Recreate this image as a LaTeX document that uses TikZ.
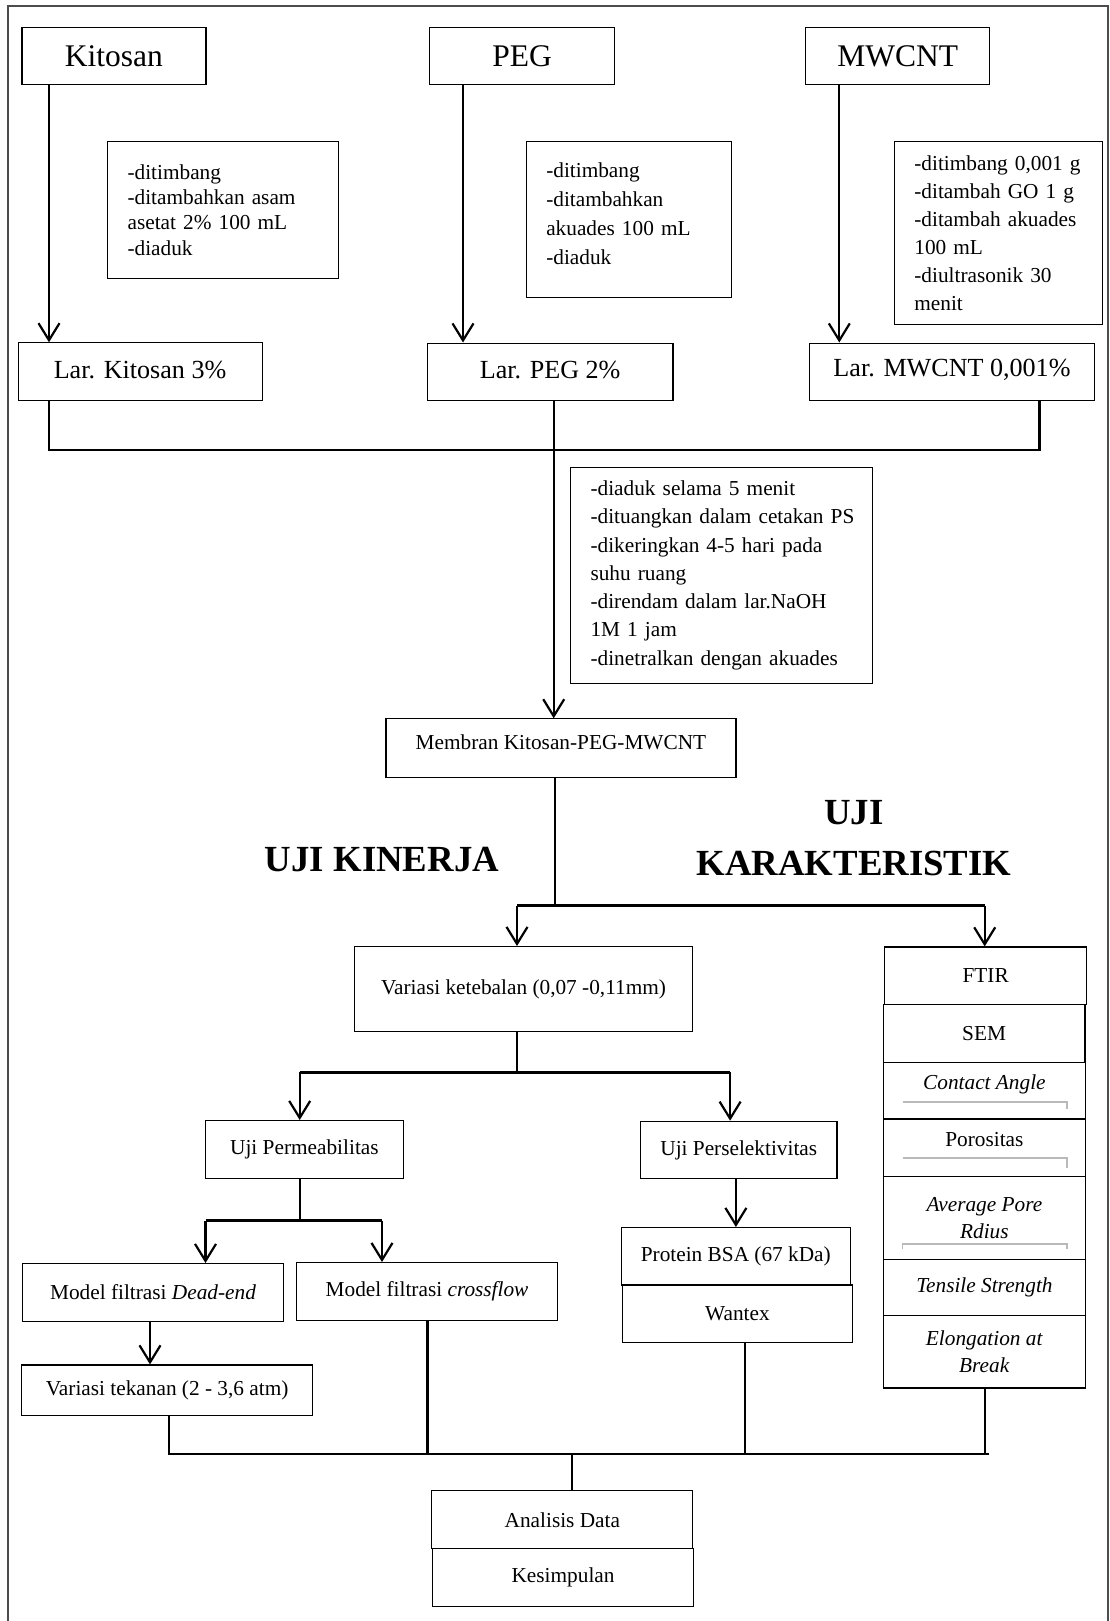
\documentclass[tikz,border=0pt]{standalone}
\usepackage{fontspec}
\setmainfont{Liberation Serif}
\usetikzlibrary{arrows.meta}
\newcommand\fsm{\fontsize{21.3}{25}\selectfont}
\newcommand\fbig{\fontsize{31.5}{36}\selectfont}
\newcommand\flar{\fontsize{26.1}{30}\selectfont}
\newcommand\up[2]{\raisebox{#1}[\height][\depth]{#2}}
\begin{document}
\begin{tikzpicture}[x=1pt,y=-1pt,
  bx/.style={draw, line width=1.1pt, inner sep=0pt, anchor=north west, align=center, font=\fsm},
  note/.style={draw, line width=1.1pt, inner xsep=20pt, inner ysep=0pt, anchor=north west, align=left},
  conn/.style={line width=2.2pt},
  arr/.style={line width=2.2pt, -{Straight Barb[length=17pt,width=21pt]}},
  greyline/.style={draw=gray!55, line width=1.4pt},
  heading/.style={font=\bfseries\fontsize{36.8}{42}\selectfont, inner sep=0pt}]
\useasboundingbox (0,0) rectangle (1109,1621);
% outer frame
\draw[line width=1.5pt, black!70] (8,1625) -- (8,6) -- (1108,6) -- (1108,1625);

% top row
\node[bx, font=\fbig, minimum width=184pt, minimum height=57.6pt] (kit) at (21.4,26.7) {Kitosan};
\node[bx, font=\fbig, minimum width=184.4pt, minimum height=57.6pt] (peg) at (429.3,26.7) {PEG};
\node[bx, font=\fbig, minimum width=184pt, minimum height=57.6pt] (mw) at (805.2,26.7) {MWCNT};

% notes
\node[note, font=\fontsize{21.3}{25.3}\selectfont, text width=190.5pt, minimum height=137.6pt] (n1) at (107,140.7)
 {\mbox{-ditimbang}\\\mbox{-ditambahkan asam}\\\mbox{asetat 2\% 100 mL}\\\mbox{-diaduk}};
\node[note, font=\fontsize{21.3}{29}\selectfont, text width=165.5pt, minimum height=156pt] (n2) at (525.7,140.7)
 {\mbox{-ditimbang}\\\mbox{-ditambahkan}\\\mbox{akuades 100 mL}\\\mbox{-diaduk\rule[-11pt]{0pt}{11pt}}};
\node[note, font=\fontsize{21.3}{28}\selectfont, text width=168pt, minimum height=183.3pt] (n3) at (893.8,140.7)
 {\mbox{-ditimbang 0,001 g}\\\mbox{-ditambah GO 1 g}\\\mbox{-ditambah akuades}\\\mbox{100 mL}\\\mbox{-diultrasonik 30}\\\mbox{menit}};

% solutions
\node[bx, font=\flar, minimum width=244pt, minimum height=57.7pt] (lk) at (17.5,342.3) {\up{2pt}{Lar. Kitosan 3\%}};
\node[bx, font=\flar, minimum width=245.6pt, minimum height=57.5pt] (lp) at (426.8,342.5) {\up{2pt}{Lar. PEG 2\%}};
\node[bx, font=\flar, minimum width=284.5pt, minimum height=57.5pt] (lm) at (809.2,342.5) {\up{2pt}{Lar. MWCNT 0,001\%}};

\node[note, font=\fontsize{21.3}{28.3}\selectfont, text width=262pt, minimum height=216pt] (n4) at (570,466.7)
 {\mbox{-diaduk selama 5 menit}\\\mbox{-dituangkan dalam cetakan PS}\\\mbox{-dikeringkan 4-5 hari pada}\\\mbox{suhu ruang}\\\mbox{-direndam dalam lar.NaOH}\\\mbox{1M 1 jam}\\\mbox{-dinetralkan dengan akuades}};

\node[bx, minimum width=350pt, minimum height=58.4pt] (mem) at (385.4,718.3) {\up{6pt}{Membran Kitosan-PEG-MWCNT}};

% headings
\node[heading] (hkin) at (382,860) {UJI KINERJA};
\node[heading] (huji) at (854,813) {UJI};
\node[heading] (hkar) at (854,863) {KARAKTERISTIK};

% performance branch
\node[bx, minimum width=338pt, minimum height=85pt] (var) at (354,946) {Variasi ketebalan (0,07 -0,11mm)};
\node[bx, minimum width=198.3pt, minimum height=58pt] (perm) at (204.7,1120) {Uji Permeabilitas};
\node[bx, minimum width=196.4pt, minimum height=57.3pt] (sel) at (640,1120.7) {Uji Perselektivitas};
\node[bx, minimum width=261.4pt, minimum height=57.6pt] (dead) at (21.8,1263) {Model filtrasi \textit{Dead-end}};
\node[bx, minimum width=261.4pt, minimum height=57.8pt] (cross) at (295.8,1262) {Model filtrasi \textit{crossflow}};
\node[bx, minimum width=291.3pt, minimum height=50.6pt] (tek) at (21,1364.4) {Variasi tekanan (2 - 3,6 atm)};
\node[bx, minimum width=229.5pt, minimum height=57.4pt] (bsa) at (620.5,1227) {Protein BSA (67 kDa)};
\node[bx, minimum width=230.2pt, minimum height=57.9pt] (wan) at (621.8,1284.4) {Wantex};

% characterisation column
\node[bx, minimum width=201.7pt, minimum height=57.6pt] (ftir) at (884.3,946.4) {FTIR};
\node[bx, minimum width=201.8pt, minimum height=57.8pt] (sem) at (882.6,1004) {SEM};
\node[bx, minimum width=202.3pt, minimum height=56.6pt] (ca) at (882.7,1061.8) {\up{6pt}{\textit{Contact Angle}}};
\node[bx, minimum width=202.3pt, minimum height=57.5pt] (por) at (882.7,1118.4) {\up{8pt}{Porositas}};
\node[bx, font=\fontsize{21.3}{26.7}\selectfont, minimum width=202.3pt, minimum height=82.7pt] (apr) at (882.7,1175.9) {\textit{Average Pore}\\\textit{Rdius}};
\node[bx, minimum width=202.3pt, minimum height=56.6pt] (ts) at (882.7,1258.6) {\textit{Tensile Strength}};
\node[bx, font=\fontsize{21.3}{27.6}\selectfont, minimum width=202.3pt, minimum height=72.2pt] (el) at (882.7,1315.2) {\textit{Elongation at}\\\textit{Break}};

% faint grey rules inside boxes
\draw[greyline] ([xshift=20pt,yshift=17.4pt]ca.south west) -- ([xshift=-19.3pt,yshift=17.4pt]ca.south east) -- ++(0,7);
\draw[greyline] ([xshift=20pt,yshift=19.2pt]por.south west) -- ([xshift=-19.3pt,yshift=19.2pt]por.south east) -- ++(0,10);
\draw[greyline] ([xshift=20pt,yshift=15.6pt]apr.south west) ++(0,5) -- ++(0,-5) -- ([xshift=-19.3pt,yshift=15.6pt]apr.south east) -- ++(0,5);

% final boxes
\node[bx, minimum width=261pt, minimum height=58.3pt] (ana) at (431.3,1490) {Analisis Data};
\node[bx, minimum width=261pt, minimum height=57.4pt] (kes) at (432,1548.3) {Kesimpulan};

% connectors: top
\draw[arr] (49,0 |- kit.south) -- (49,0 |- lk.north);
\draw[arr] (463,0 |- peg.south) -- (463,0 |- lp.north);
\draw[arr] (839.3,0 |- mw.south) -- (839.3,0 |- lm.north);
\coordinate (j1) at (553.7,450);
\draw[conn] (49,0 |- lk.south) -- (49,450) -- (1039.5,450) -- (1039.5,0 |- lm.south);
\draw[conn] (553.7,0 |- lp.south) -- (j1);
\draw[arr] (j1) -- (553.7,0 |- mem.north);

% split to tests
\coordinate (j2) at (555,905.5);
\draw[conn] (555,0 |- mem.south) -- (j2);
\draw[conn] (517,905.5) -- (984.7,905.5);
\draw[arr] (517,905.5) -- (517,0 |- var.north);
\draw[arr] (984.7,905.5) -- (984.7,0 |- ftir.north);

\coordinate (j3) at (516.6,1072.4);
\draw[conn] (516.6,0 |- var.south) -- (j3);
\draw[conn] (299.7,1072.4) -- (730.1,1072.4);
\draw[arr] (299.7,1072.4) -- (299.7,0 |- perm.north);
\draw[arr] (730.1,1072.4) -- (730.1,0 |- sel.north);

\coordinate (j4) at (299.7,1220.5);
\draw[conn] (299.7,0 |- perm.south) -- (j4);
\draw[conn] (205.5,1220.5) -- (382,1220.5);
\draw[arr] (205.5,1220.5) -- (205.5,0 |- dead.north);
\draw[arr] (382,1220.5) -- (382,0 |- cross.north);
\draw[arr] (150,0 |- dead.south) -- (150,0 |- tek.north);
\draw[arr] (735.9,0 |- sel.south) -- (735.9,0 |- bsa.north);

% bottom merge
\coordinate (j5) at (572,1454);
\draw[conn] (169.2,0 |- tek.south) -- (169.2,1454) -- (989,1454);
\draw[conn] (427.5,0 |- cross.south) -- (427.5,1454);
\draw[conn] (745.3,0 |- wan.south) -- (745.3,1454);
\draw[conn] (984.9,0 |- el.south) -- (984.9,1454);
\draw[conn] (j5) -- (572,0 |- ana.north);
\end{tikzpicture}
\end{document}
